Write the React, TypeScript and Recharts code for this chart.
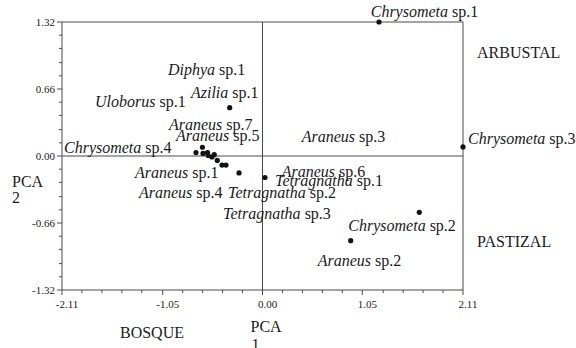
import { ScatterChart, Scatter, XAxis, YAxis, ReferenceLine, ReferenceDot } from "recharts";

// axis ticks (minor every step, labelled every fifth)
const xTicks = [-2.11, -1.9, -1.69, -1.48, -1.27, -1.05, -0.84, -0.63, -0.42, -0.21, 0, 0.21, 0.42, 0.63, 0.84, 1.05, 1.27, 1.48, 1.69, 1.9, 2.11];
const xTickLabels = ["-2.11", "-1.05", "0.00", "1.05", "2.11"];
const yTicks = [-1.32, -1.19, -1.06, -0.92, -0.79, -0.66, -0.53, -0.4, -0.26, -0.13, 0, 0.13, 0.26, 0.4, 0.53, 0.66, 0.79, 0.92, 1.06, 1.19, 1.32];
const yTickLabels = ["-1.32", "-0.66", "0.00", "0.66", "1.32"];

// species scores
const pcaX = [-0.7, -0.632, -0.626, -0.579, -0.571, -0.532, -0.508, -0.476, -0.426, -0.384, -0.247, 0.026, -0.345, 1.226, 2.11, 1.65, 0.928];
const pcaY = [0.034, 0.086, 0.025, 0.034, 0.005, -0.01, 0.013, -0.044, -0.089, -0.089, -0.167, -0.212, 0.476, 1.32, 0.089, -0.555, -0.834];

// species labels
const genus = ["Chrysometa", "Chrysometa", "Araneus", "Diphya", "Azilia", "Uloborus", "Araneus", "Araneus", "Chrysometa", "Araneus", "Araneus", "Tetragnatha", "Tetragnatha", "Araneus", "Tetragnatha", "Chrysometa", "Araneus"];
const sp = ["sp.1", "sp.3", "sp.3", "sp.1", "sp.1", "sp.1", "sp.7", "sp.5", "sp.4", "sp.1", "sp.4", "sp.2", "sp.3", "sp.6", "sp.1", "sp.2", "sp.2"];
const labelX = [1.139, 2.163, 0.413, -0.995, -0.753, -1.763, -0.984, -0.911, -2.089, -1.342, -1.3, -0.363, -0.416, 0.202, 0.132, 0.903, 0.581];
const labelY = [1.369, 0.123, 0.138, 0.798, 0.576, 0.483, 0.256, 0.148, 0.03, -0.217, -0.409, -0.409, -0.616, -0.207, -0.296, -0.734, -1.079];

// habitat names
const zones = ["ARBUSTAL", "PASTIZAL", "BOSQUE"];
const zoneX = [2.258, 2.258, -1.5];
const zoneY = [0.966, -0.897, -1.793];

const points = pcaX.map((x, i) => ({ x, y: pcaY[i] }));

const FONT = "Liberation Serif";
const INK = "#1a1a1a";
const LINE = "#4a4a4a";

const isMajor = (i: number) => i % 5 === 0;

function XTick(props: any) {
  const { x, y, index } = props;
  const major = isMajor(index);
  return (
    <g>
      <line x1={x} y1={y} x2={x} y2={y + (major ? 5 : 3)} stroke={LINE} />
      {major && (
        <text x={x + 5} y={y + 18} textAnchor="middle" fontSize={11} fill={INK}>
          {xTickLabels[index / 5]}
        </text>
      )}
    </g>
  );
}

function YTick(props: any) {
  const { x, y, index } = props;
  const major = isMajor(index);
  return (
    <g>
      <line x1={x} y1={y} x2={x - (major ? 5 : 3)} y2={y} stroke={LINE} />
      {major && (
        <text x={x - 7} y={y + 4} textAnchor="end" fontSize={11} fill={INK}>
          {yTickLabels[index / 5]}
        </text>
      )}
    </g>
  );
}

export default function App() {
  return (
    <div style={{ width: 576, height: 348, background: "#fff" }}>
      <style>{`body{margin:0} .chart-serif text, .chart-serif tspan{font-family:"Liberation Serif", serif !important;}`}</style>
      <div className="chart-serif">
        <ScatterChart width={576} height={348} margin={{ top: 22, right: 113, bottom: 28, left: 22 }}>
          <XAxis
            type="number"
            dataKey="x"
            domain={[-2.11, 2.11]}
            ticks={xTicks}
            interval={0}
            tickSize={0}
            tickMargin={0}
            tickLine={false}
            tick={<XTick />}
            height={30}
            axisLine={{ stroke: LINE }}
            label={{
              content: (p: any) => {
                const vb = p.viewBox || { x: 62, y: 290, width: 401 };
                const cx = vb.x + vb.width / 2 - 12;
                return (
                  <text fontSize={16} fill={INK}>
                    <tspan x={cx} y={vb.y + 42}>PCA</tspan>
                    <tspan x={cx + 1} y={vb.y + 60}>1</tspan>
                  </text>
                );
              },
            }}
          />
          <YAxis
            type="number"
            dataKey="y"
            domain={[-1.32, 1.32]}
            ticks={yTicks}
            interval={0}
            tickSize={0}
            tickMargin={0}
            tickLine={false}
            tick={<YTick />}
            width={40}
            axisLine={{ stroke: LINE }}
            label={{
              content: (p: any) => {
                const vb = p.viewBox || { x: 22, y: 22, height: 268 };
                const mid = vb.y + vb.height / 2;
                return (
                  <text fontSize={16} fill={INK}>
                    <tspan x={vb.x - 10} y={mid + 31}>PCA</tspan>
                    <tspan x={vb.x - 10} y={mid + 47}>2</tspan>
                  </text>
                );
              },
            }}
          />
          <ReferenceLine x={2.11} stroke={LINE} ifOverflow="visible" />
          <ReferenceLine y={1.32} stroke={LINE} ifOverflow="visible" />
          <ReferenceLine x={0} stroke={LINE} />
          <ReferenceLine y={0} stroke={LINE} />
          <Scatter
            data={points}
            isAnimationActive={false}
            shape={(p: any) => <circle cx={p.cx} cy={p.cy} r={2.6} fill="#111" />}
          />
          {genus.map((g, i) => (
            <ReferenceDot
              key={`lab${i}`}
              x={labelX[i]}
              y={labelY[i]}
              ifOverflow="visible"
              shape={(p: any) => (
                <text x={p.cx} y={p.cy} fontSize={16} fontFamily={FONT} fill={INK}>
                  <tspan fontStyle="italic">{g}</tspan> {sp[i]}
                </text>
              )}
            />
          ))}
          {zones.map((z, i) => (
            <ReferenceDot
              key={`zone${i}`}
              x={zoneX[i]}
              y={zoneY[i]}
              ifOverflow="visible"
              shape={(p: any) => (
                <text x={p.cx} y={p.cy} fontSize={16} fontFamily={FONT} fill={INK}>
                  {z}
                </text>
              )}
            />
          ))}
        </ScatterChart>
      </div>
    </div>
  );
}
